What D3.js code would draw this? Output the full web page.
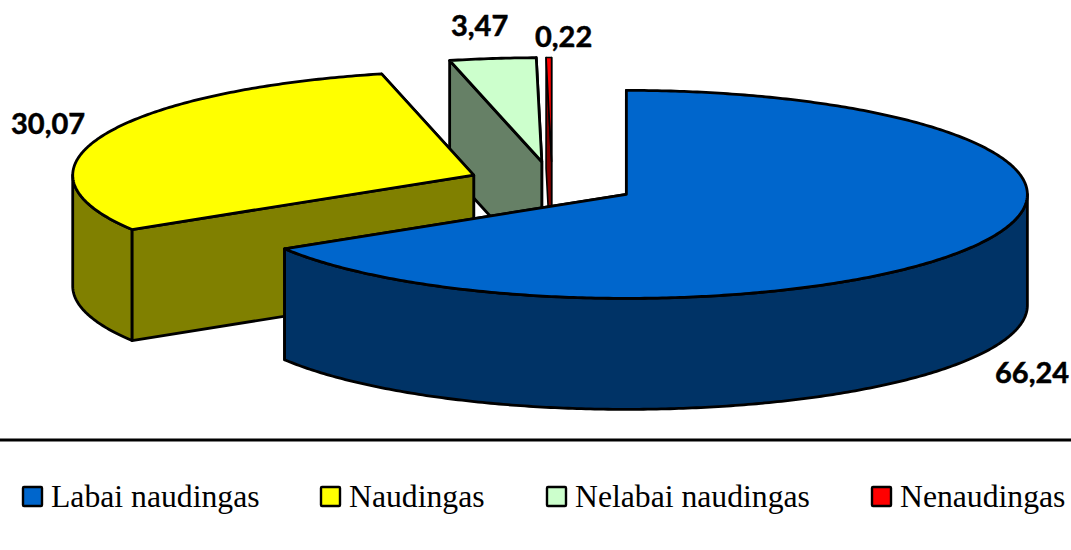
<!DOCTYPE html>
<html lang="lt">
<head>
    <meta charset="UTF-8">
    <title>Naudingumas</title>
    <script src="https://d3js.org/d3.v7.min.js"></script>
    <style>
        body { margin: 0; padding: 0; background: #fff; }
        svg { display: block; }
        .value { font-family: Lato, sans-serif; font-weight: 700; font-size: 29px; fill: #000; stroke: #000; stroke-width: 0.5px; }
        .legend { font-family: "Liberation Serif", serif; font-size: 31.7px; fill: #000; }
    </style>
</head>
<body>
    <script>
        // data
        var categories = ["Labai naudingas", "Naudingas", "Nelabai naudingas", "Nenaudingas"];
        var values = [66.24, 30.07, 3.47, 0.22];
        var valueLabels = ["66,24", "30,07", "3,47", "0,22"];

        // colours
        var topColors = ["#0066CC", "#FFFF00", "#CCFFCC", "#FF0000"];
        var sideColors = ["#003366", "#808000", "#668066", "#800000"];

        // layout
        var width = 1071, height = 550;
        var baseX = 552.2, baseY = 183.6;   // centre of the pie before explosion
        var rx = 401, ry = 104, depth = 111, explode = 85;
        var labelPos = [[995, 383], [11, 134], [451, 36], [535, 47]];
        var legendX = [22, 320, 546, 871];

        var svg = d3.select("body").append("svg")
            .attr("width", width)
            .attr("height", height);

        var slices = d3.pie().sort(null)(values);

        // unit circle -> ellipse, for one slice centre
        function projector(cx, cy) {
            var x = d3.scaleLinear().domain([-1, 1]).range([cx - rx, cx + rx]);
            var y = d3.scaleLinear().domain([-1, 1]).range([cy + ry, cy - ry]);
            return function(a, drop) {
                return [x(Math.sin(a)), y(Math.cos(a)) + (drop || 0)];
            };
        }

        var line = d3.line();

        function arcPoints(p, a0, a1, drop) {
            var n = Math.max(2, Math.ceil((a1 - a0) * 90));
            return d3.range(n + 1).map(function(i) {
                return p(a0 + (a1 - a0) * i / n, drop);
            });
        }

        function drawFace(pts, fill, sw) {
            svg.append("path")
                .attr("d", line(pts) + "Z")
                .attr("fill", fill)
                .attr("stroke", "#000")
                .attr("stroke-width", sw)
                .attr("stroke-linejoin", "round");
        }

        // back slices first
        [2, 3, 1, 0].forEach(function(k) {
            var s = slices[k];
            var mid = (s.startAngle + s.endAngle) / 2;
            var cx = baseX + explode * Math.sin(mid);
            var cy = baseY - explode * (ry / rx) * Math.cos(mid);
            var p = projector(cx, cy);
            var apex = [cx, cy];
            var apexLow = [cx, cy + depth];
            var sw = k === 3 ? 1.6 : 2.8;   // the red sliver would be all black otherwise

            // the two cut faces
            var e = p(s.endAngle), eLow = p(s.endAngle, depth);
            var b = p(s.startAngle), bLow = p(s.startAngle, depth);
            drawFace([apex, e, eLow, apexLow], sideColors[k], sw);
            drawFace([apex, b, bLow, apexLow], sideColors[k], sw);

            // outer wall, only the part on the front half
            var w0 = Math.max(s.startAngle, Math.PI / 2);
            var w1 = Math.min(s.endAngle, Math.PI * 1.5);
            if (w1 > w0) {
                drawFace(arcPoints(p, w0, w1, 0).concat(arcPoints(p, w0, w1, depth).reverse()), sideColors[k], sw);
            }

            // top
            drawFace([apex].concat(arcPoints(p, s.startAngle, s.endAngle, 0)), topColors[k], sw);
        });

        // value labels
        svg.selectAll(".value")
            .data(valueLabels)
            .join("text")
            .attr("class", "value")
            .attr("x", function(d, i) { return labelPos[i][0]; })
            .attr("y", function(d, i) { return labelPos[i][1]; })
            .text(function(d) { return d; });

        // rule above the legend
        svg.append("line")
            .attr("x1", 0).attr("x2", width)
            .attr("y1", 440).attr("y2", 440)
            .attr("stroke", "#000")
            .attr("stroke-width", 2.8);

        // legend
        var legend = svg.selectAll(".item")
            .data(categories)
            .join("g")
            .attr("class", "item")
            .attr("transform", function(d, i) { return "translate(" + legendX[i] + ",0)"; });

        legend.append("rect")
            .attr("x", 1).attr("y", 487)
            .attr("width", 19).attr("height", 19)
            .attr("rx", 1)
            .attr("fill", function(d, i) { return topColors[i]; })
            .attr("stroke", "#000")
            .attr("stroke-width", 2.4);

        legend.append("text")
            .attr("class", "legend")
            .attr("x", 29).attr("y", 507)
            .text(function(d) { return d; });
    </script>
</body>
</html>
